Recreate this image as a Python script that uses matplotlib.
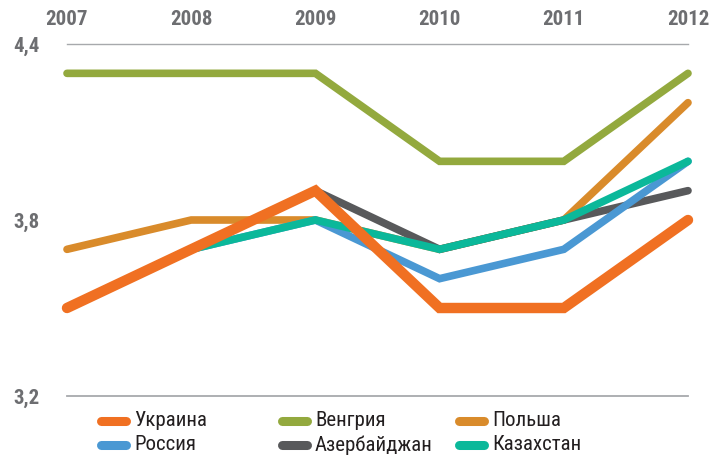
import matplotlib
matplotlib.use("Agg")
import matplotlib.pyplot as plt
from matplotlib.lines import Line2D

years = [2007, 2008, 2009, 2010, 2011, 2012]
year_labels = ["2007", "2008", "2009", "2010", "2011", "2012"]
y_ticks = [3.2, 3.8, 4.4]
y_tick_labels = ["3,2", "3,8", "4,4"]

ukraine = [3.5, 3.7, 3.9, 3.5, 3.5, 3.8]
hungary = [4.3, 4.3, 4.3, 4.0, 4.0, 4.3]
poland = [3.7, 3.8, 3.8, 3.7, 3.8, 4.2]
russia = [3.5, 3.7, 3.8, 3.6, 3.7, 4.0]
azerbaijan = [3.5, 3.7, 3.9, 3.7, 3.8, 3.9]
kazakhstan = [3.5, 3.7, 3.8, 3.7, 3.8, 4.0]

names = ["Украина", "Венгрия", "Польша", "Россия", "Азербайджан", "Казахстан"]
colors = {
    "Украина": "#F07022",
    "Венгрия": "#93A93E",
    "Польша": "#D98B2B",
    "Россия": "#4A98D3",
    "Азербайджан": "#58595B",
    "Казахстан": "#0BB89A",
}
series = {
    "Украина": ukraine,
    "Венгрия": hungary,
    "Польша": poland,
    "Россия": russia,
    "Азербайджан": azerbaijan,
    "Казахстан": kazakhstan,
}

FONT = ["Roboto Condensed", "Fira Sans Condensed", "DejaVu Sans"]
TXT = "#6D6E71"

W, H = 722, 457
fig = plt.figure(figsize=(W / 100, H / 100), dpi=100)
ax = fig.add_axes([67 / W, 1 - 396 / H, (688 - 67) / W, (396 - 44) / H])
ax.set_xlim(2007, 2012)
ax.set_ylim(3.2, 4.4)
for s in ax.spines.values():
    s.set_visible(False)

ax.axhline(4.4, color="#A7A9AC", lw=1.0, zorder=1, clip_on=False)
ax.axhline(3.2, color="#A7A9AC", lw=1.3, zorder=1, clip_on=False)

order = ["Венгрия", "Польша", "Азербайджан", "Россия", "Казахстан", "Украина"]
for i, n in enumerate(order):
    lw = 7.5 if n == "Украина" else 5.5
    ax.plot(years, series[n], color=colors[n], lw=lw, solid_capstyle="round",
            solid_joinstyle="miter", zorder=2 + i, clip_on=False)

ax.xaxis.tick_top()
ax.set_xticks(years)
ax.set_xticklabels(year_labels, fontfamily=FONT, fontweight="bold",
                   fontsize=15, color=TXT)
ax.tick_params(axis="x", length=0, pad=11)
ax.set_yticks(y_ticks)
ax.set_yticklabels(y_tick_labels, fontfamily=FONT, fontweight="bold",
                   fontsize=15, color=TXT)
ax.tick_params(axis="y", length=0, pad=20)

# legend (manual, three columns x two rows)
leg_order = [["Украина", "Венгрия", "Польша"], ["Россия", "Азербайджан", "Казахстан"]]
col_x = [97, 278, 455]
row_y = [421, 445]
for r, row in enumerate(leg_order):
    for c, n in enumerate(row):
        x0 = col_x[c]
        y0 = 1 - row_y[r] / H
        fig.add_artist(Line2D([(x0 + 4) / W, (x0 + 29) / W], [y0, y0],
                              transform=fig.transFigure, color=colors[n],
                              lw=6.5, solid_capstyle="round"))
        fig.text((x0 + 37) / W, y0, n, fontfamily=FONT, fontsize=15,
                 color="#231F20", va="center", ha="left")

fig.savefig("out.png", dpi=100)
